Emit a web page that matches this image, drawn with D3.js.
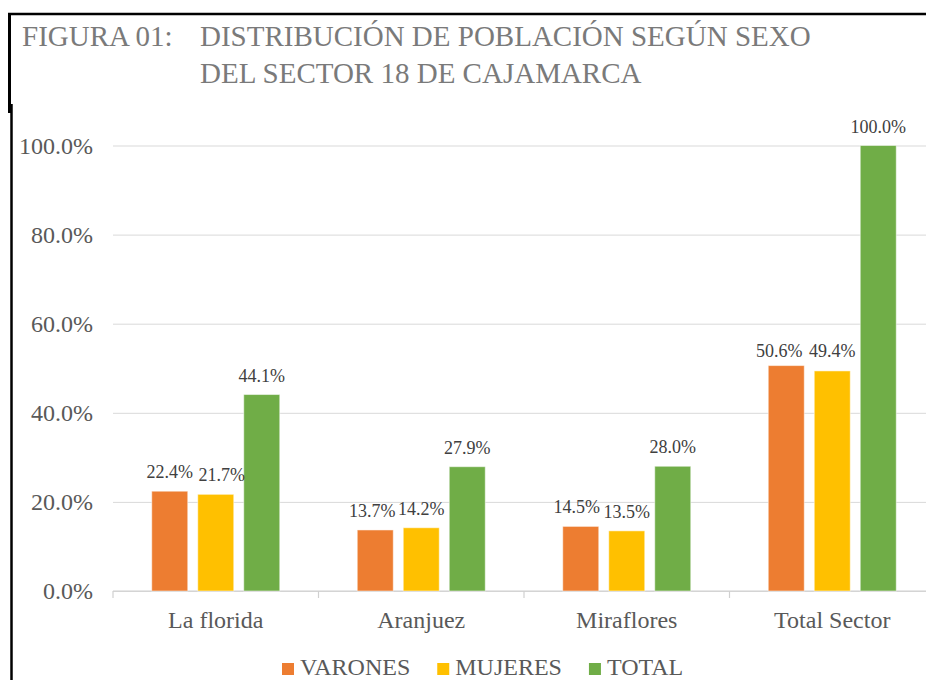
<!DOCTYPE html>
<html>
<head>
<meta charset="utf-8">
<script src="https://cdn.jsdelivr.net/npm/d3@7"></script>
<style>
  html, body { margin: 0; padding: 0; background: #fff; }
  svg { display: block; }
  svg text, svg tspan { font-family: "Liberation Serif", "Times New Roman", Times, serif !important; }
</style>
</head>
<body>
<svg id="chart" width="926" height="680" font-family="Liberation Serif, Times New Roman, serif"></svg>
<script>
// ---- data ----
const categories = ["La florida", "Aranjuez", "Miraflores", "Total Sector"];
const seriesNames = ["VARONES", "MUJERES", "TOTAL"];
const varones = [0.224, 0.137, 0.145, 0.506];
const mujeres = [0.217, 0.142, 0.135, 0.494];
const total   = [0.441, 0.279, 0.280, 1.000];
const yTicks  = [0, 0.2, 0.4, 0.6, 0.8, 1.0];
const titleLine1a = "FIGURA 01:";
const titleLine1b = "DISTRIBUCIÓN DE POBLACIÓN SEGÚN SEXO";
const titleLine2  = "DEL SECTOR 18 DE CAJAMARCA";

// ---- styles / layout ----
const FONT = '"Liberation Serif", "Times New Roman", Times, serif';
const colors = { VARONES: "#ED7D31", MUJERES: "#FFC000", TOTAL: "#70AD47" };
// small manual label nudges (Excel-like overlap avoidance)
const labelNudge = {
  "La florida|MUJERES": [6, 0],
  "Aranjuez|VARONES": [-3, 0],
  "Miraflores|VARONES": [-4, 0],
  "Total Sector|VARONES": [-7, 4],
  "Total Sector|MUJERES": [0, -1]
};

const svg = d3.select("#chart");
svg.append("rect").attr("width", 926).attr("height", 680).attr("fill", "#fff");

const seriesValues = { VARONES: varones, MUJERES: mujeres, TOTAL: total };
const rows = categories.map((c, i) => ({
  category: c,
  values: seriesNames.map(s => ({ series: s, category: c, value: seriesValues[s][i] }))
}));

const plotLeft = 113, plotRight = 935, gridRight = 926;
const y = d3.scaleLinear().domain([0, 1]).range([591, 145.5]);
const x0 = d3.scaleBand().domain(categories).range([plotLeft, plotRight]).padding(0);
const groupW = 128;
const x1 = d3.scaleBand().domain(seriesNames)
  .range([(x0.bandwidth() - groupW) / 2, (x0.bandwidth() + groupW) / 2])
  .paddingInner(10 / 46).paddingOuter(0);

// ---- frame lines ----
svg.append("line").attr("x1", 8).attr("x2", 926).attr("y1", 14).attr("y2", 14)
  .attr("stroke", "#000").attr("stroke-width", 2.5);
svg.append("line").attr("x1", 9.5).attr("x2", 9.5).attr("y1", 13).attr("y2", 113)
  .attr("stroke", "#000").attr("stroke-width", 3);
svg.append("line").attr("x1", 11.5).attr("x2", 11.5).attr("y1", 104).attr("y2", 680)
  .attr("stroke", "#000").attr("stroke-width", 2.5);

// ---- title ----
const title = svg.append("text").attr("fill", "#7a7a7a")
  .style("font-size", "29px").style("font-family", FONT);
title.append("tspan").attr("x", 22).attr("y", 46).text(titleLine1a);
title.append("tspan").attr("x", 200).attr("y", 46).text(titleLine1b);
title.append("tspan").attr("x", 200).attr("y", 83).text(titleLine2);

// ---- y axis with gridlines ----
const yAxis = d3.axisLeft(y).tickValues(yTicks).tickFormat(d3.format(".1%"))
  .tickSizeInner(-(gridRight - plotLeft)).tickSizeOuter(0).tickPadding(20);
const gy = svg.append("g").attr("transform", `translate(${plotLeft},0)`).call(yAxis)
  .attr("font-family", FONT);
gy.select(".domain").remove();
gy.selectAll(".tick line").attr("stroke", "#d9d9d9").attr("stroke-width", 1);
gy.selectAll(".tick text").attr("fill", "#595959")
  .style("font-size", "24px").style("font-family", FONT)
  .attr("dy", "0.33em");

// ---- x axis ----
svg.append("line").attr("x1", plotLeft).attr("x2", gridRight).attr("y1", y(0)).attr("y2", y(0))
  .attr("stroke", "#d0d0d0").attr("stroke-width", 1.2);
const bounds = categories.map(c => x0(c)).concat([x0(categories[categories.length - 1]) + x0.bandwidth()]);
svg.selectAll(".bound").data(bounds).enter().append("line")
  .attr("x1", d => d).attr("x2", d => d).attr("y1", y(0)).attr("y2", y(0) + 7)
  .attr("stroke", "#d0d0d0").attr("stroke-width", 1.2);
svg.selectAll(".catlabel").data(categories).enter().append("text")
  .attr("x", d => x0(d) + x0.bandwidth() / 2).attr("y", 628)
  .attr("text-anchor", "middle").attr("fill", "#595959")
  .style("font-size", "24px").style("font-family", FONT)
  .text(d => d);

// ---- bars ----
const groups = svg.selectAll(".grp").data(rows).enter().append("g")
  .attr("transform", d => `translate(${x0(d.category)},0)`);
groups.selectAll("rect").data(d => d.values).enter().append("rect")
  .attr("x", d => x1(d.series)).attr("width", x1.bandwidth())
  .attr("y", d => y(d.value)).attr("height", d => y(0) - y(d.value))
  .attr("fill", d => colors[d.series])
  .attr("stroke", "#fff").attr("stroke-opacity", 0.5).attr("stroke-width", 1);
groups.selectAll(".lbl").data(d => d.values).enter().append("text")
  .attr("x", d => x1(d.series) + x1.bandwidth() / 2 + (labelNudge[d.category + "|" + d.series] || [0, 0])[0])
  .attr("y", d => y(d.value) - 13 + (labelNudge[d.category + "|" + d.series] || [0, 0])[1])
  .attr("text-anchor", "middle").attr("fill", "#404040")
  .style("font-size", "18px").style("font-family", FONT)
  .text(d => d3.format(".1%")(d.value));

// ---- legend ----
const legend = svg.append("g");
let lx = 282;
seriesNames.forEach(s => {
  legend.append("rect").attr("x", lx).attr("y", 663).attr("width", 12).attr("height", 12)
    .attr("fill", colors[s]);
  const t = legend.append("text").attr("x", lx + 18).attr("y", 675)
    .attr("fill", "#595959").style("font-size", "24px").style("font-family", FONT).text(s);
  lx += 18 + t.node().getComputedTextLength() + 27;
});
</script>
</body>
</html>
